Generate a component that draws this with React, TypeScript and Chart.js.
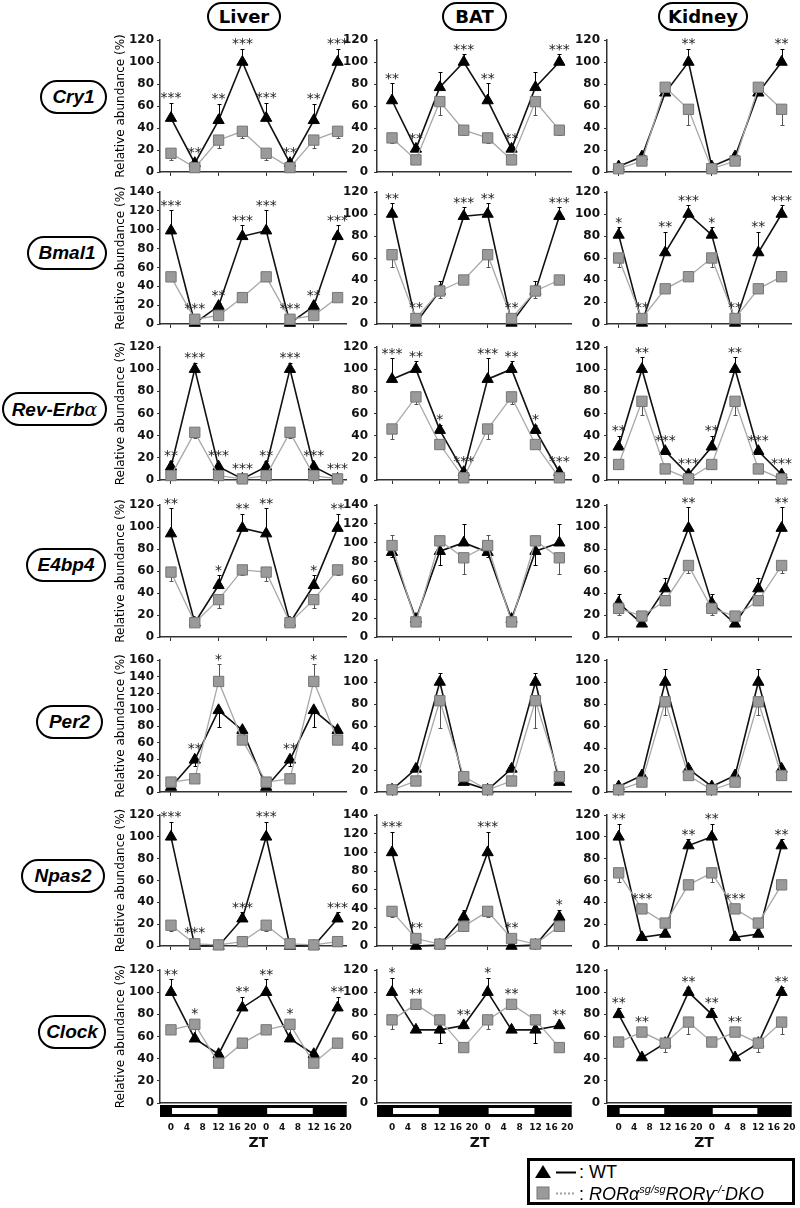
import React, { useEffect, useRef } from "react";
import { Chart, registerables } from "chart.js";

Chart.register(...registerables);

/* ------------------------------------------------------------------ */
/*  DATA                                                              */
/* ------------------------------------------------------------------ */

// sampling times (ZT, hours) of the double-plotted series
const ZT_POINTS = [0, 6, 12, 18, 24, 30, 36, 42];
// bottom axis tick labels
const ZT_TICK_POS = [0, 4, 8, 12, 16, 20, 24, 28, 32, 36, 40, 44];
const ZT_TICK_LABELS = ["0", "4", "8", "12", "16", "20", "0", "4", "8", "12", "16", "20"];
const ZT_AXIS_MARKS = [0, 12, 24, 36];
const LIGHT_PHASES = [
  [0, 12],
  [24, 36],
];

const TISSUES = ["Liver", "BAT", "Kidney"];
const GENES = ["Cry1", "Bmal1", "Rev-Erbα", "E4bp4", "Per2", "Npas2", "Clock"];

// y-axis maximum per panel [Liver, BAT, Kidney]
const Y_MAX = [
  [120, 120, 120],
  [140, 120, 120],
  [120, 120, 120],
  [120, 140, 120],
  [160, 120, 120],
  [120, 140, 120],
  [120, 120, 120],
];

// Relative abundance (%) at ZT 0, 6, 12, 18 for [Liver, BAT, Kidney].
// Errors: signed (+ drawn upward, - drawn downward). Stars: one per plotted point.
const CRY1_WT = [[49, 8, 47, 100], [65, 21, 77, 100], [5, 14, 72, 100]];
const CRY1_WT_ERR = [[14, 0, 15, 12], [16, 3, 14, 7], [2, 2, 3, 12]];
const CRY1_DKO = [[17, 4, 29, 37], [31, 11, 64, 38], [3, 10, 77, 57]];
const CRY1_DKO_ERR = [[-6, -2, -7, -6], [-5, -1, -12, -4], [-1, -2, -2, -14]];
const CRY1_STARS = [
  ["***", "**", "**", "***", "***", "**", "**", "***"],
  ["**", "**", "", "***", "**", "**", "", "***"],
  ["", "", "", "**", "", "", "", "**"],
];

const BMAL1_WT = [[99, 1, 19, 93], [100, 1, 30, 98], [81, 1, 65, 100]];
const BMAL1_WT_ERR = [[22, 0, 3, 12], [10, 0, 9, 8], [7, 0, 19, 8]];
const BMAL1_DKO = [[50, 5, 9, 28], [63, 5, 30, 40], [60, 5, 32, 43]];
const BMAL1_DKO_ERR = [[-2, -1, -3, -2], [-11, -1, -6, -4], [-8, -1, -2, -3]];
const BMAL1_STARS = [
  ["***", "***", "**", "***", "***", "***", "**", "***"],
  ["**", "**", "", "***", "**", "**", "", "***"],
  ["*", "**", "**", "***", "*", "**", "**", "***"],
];

const REVERBA_WT = [[12, 100, 12, 1], [91, 100, 45, 7], [30, 100, 26, 5]];
const REVERBA_WT_ERR = [[5, 6, 0, 0], [19, 7, 5, 0], [10, 11, 0, 0]];
const REVERBA_DKO = [[4, 43, 4, 1], [46, 75, 32, 2], [14, 71, 10, 1]];
const REVERBA_DKO_ERR = [[-1, -5, -1, 0], [-9, -6, -3, 0], [-4, -12, -2, 0]];
const REVERBA_STARS = [
  ["**", "***", "***", "***", "**", "***", "***", "***"],
  ["***", "**", "*", "***", "***", "**", "*", "***"],
  ["**", "**", "***", "***", "**", "**", "***", "***"],
];

const E4BP4_WT = [[94, 13, 47, 99], [90, 19, 91, 100], [31, 12, 44, 99]];
const E4BP4_WT_ERR = [[23, 0, 9, 13], [-5, 0, -15, 20], [8, 0, 10, 19]];
const E4BP4_DKO = [[59, 13, 34, 61], [97, 16, 102, 84], [26, 19, 33, 65]];
const E4BP4_DKO_ERR = [[-8, 0, -8, -5], [11, 0, 3, -17], [-6, 0, -4, -7]];
const E4BP4_STARS = [
  ["**", "", "*", "**", "**", "", "*", "**"],
  ["", "", "", "", "", "", "", ""],
  ["", "", "", "**", "", "", "", "**"],
];

const PER2_WT = [[6, 39, 99, 75], [2, 21, 100, 9], [5, 15, 100, 21]];
const PER2_WT_ERR = [[0, -8, -20, 0], [0, 0, 8, 0], [0, 0, 12, 0]];
const PER2_DKO = [[12, 16, 134, 63], [2, 10, 83, 14], [2, 9, 82, 15]];
const PER2_DKO_ERR = [[0, 0, 21, -3], [0, -2, -25, 0], [0, -2, -12, -2]];
const PER2_STARS = [
  ["", "**", "*", "", "", "**", "*", ""],
  ["", "", "", "", "", "", "", ""],
  ["", "", "", "", "", "", "", ""],
];

const NPAS2_WT = [[100, 0, 0, 25], [100, 0, 1, 31], [100, 8, 11, 92]];
const NPAS2_WT_ERR = [[14, 0, 0, 6], [22, 0, 0, 8], [12, 0, 0, 6]];
const NPAS2_DKO = [[19, 2, 1, 4], [37, 8, 2, 21], [67, 34, 21, 56]];
const NPAS2_DKO_ERR = [[-5, 0, 0, -1], [-6, -1, 0, -2], [-8, -2, -3, -2]];
const NPAS2_STARS = [
  ["***", "***", "", "***", "***", "", "", "***"],
  ["***", "**", "", "", "***", "**", "", "*"],
  ["**", "***", "", "**", "**", "***", "", "**"],
];

const CLOCK_WT = [[100, 58, 44, 86], [100, 66, 66, 70], [80, 41, 54, 100]];
const CLOCK_WT_ERR = [[12, 0, 0, 10], [13, 0, -12, 0], [6, 0, 0, 5]];
const CLOCK_DKO = [[66, 71, 36, 54], [75, 89, 75, 50], [55, 64, 54, 73]];
const CLOCK_DKO_ERR = [[-3, -12, -3, -2], [-8, -3, -8, -2], [-3, -2, -8, -11]];
const CLOCK_STARS = [
  ["**", "*", "", "**", "**", "*", "", "**"],
  ["*", "**", "", "**", "*", "**", "", "**"],
  ["**", "**", "", "**", "**", "**", "", "**"],
];

const WT = [CRY1_WT, BMAL1_WT, REVERBA_WT, E4BP4_WT, PER2_WT, NPAS2_WT, CLOCK_WT];
const WT_ERR = [CRY1_WT_ERR, BMAL1_WT_ERR, REVERBA_WT_ERR, E4BP4_WT_ERR, PER2_WT_ERR, NPAS2_WT_ERR, CLOCK_WT_ERR];
const DKO = [CRY1_DKO, BMAL1_DKO, REVERBA_DKO, E4BP4_DKO, PER2_DKO, NPAS2_DKO, CLOCK_DKO];
const DKO_ERR = [CRY1_DKO_ERR, BMAL1_DKO_ERR, REVERBA_DKO_ERR, E4BP4_DKO_ERR, PER2_DKO_ERR, NPAS2_DKO_ERR, CLOCK_DKO_ERR];
const STARS = [CRY1_STARS, BMAL1_STARS, REVERBA_STARS, E4BP4_STARS, PER2_STARS, NPAS2_STARS, CLOCK_STARS];

// the figure plots the same ZT0-18 measurements twice (double plot)
const doublePlot = (v: number[]) => [...v, ...v];

/* ------------------------------------------------------------------ */
/*  LAYOUT                                                            */
/* ------------------------------------------------------------------ */

const AXIS = "#333";
const TOP_PAD = 16;
const COLS = [
  { left: 114, axisW: 46, width: 241, padR: 8, xMin: -2.77, xMax: 44.3, tickPad: 3 },
  { left: 340, axisW: 37, width: 240, padR: 8, xMin: -3.77, xMax: 45.1, tickPad: 6 },
  { left: 570, axisW: 37, width: 230, padR: 3, xMin: -3.0, xMax: 44.6, tickPad: 4 },
];
const ROW_TOP = [40, 192, 347, 505, 660, 815, 970];
const ROW_BOTTOM = [172, 324, 480, 637, 792, 946, 1103];
const HEADER_BOX = [
  { left: 207, width: 74 },
  { left: 442, width: 65 },
  { left: 658, width: 90 },
];
const GENE_BOX = [
  { left: 40, width: 67, cy: 97 },
  { left: 27, width: 80, cy: 253 },
  { left: 2, width: 105, cy: 409 },
  { left: 26, width: 80, cy: 565 },
  { left: 36, width: 67, cy: 722 },
  { left: 21, width: 84, cy: 876 },
  { left: 38, width: 68, cy: 1032 },
];

function Panel({ g, t }: { g: number; t: number }) {
  const ref = useRef<HTMLCanvasElement>(null);
  const col = COLS[t];
  const isBottom = g === GENES.length - 1;
  const xAxisH = isBottom ? 52 : 10;
  const top = ROW_TOP[g] - TOP_PAD;
  const height = TOP_PAD + (ROW_BOTTOM[g] - ROW_TOP[g]) + xAxisH;

  useEffect(() => {
    const canvas = ref.current;
    if (!canvas) return;
    const wt = doublePlot(WT[g][t]);
    const wtErr = doublePlot(WT_ERR[g][t]);
    const dko = doublePlot(DKO[g][t]);
    const dkoErr = doublePlot(DKO_ERR[g][t]);
    const stars = STARS[g][t];

    const overlay: any = {
      id: "errStars",
      beforeDatasetsDraw(chart: any) {
        const { ctx } = chart;
        const x = chart.scales.x;
        const y = chart.scales.y;
        ctx.save();
        const groups: [number[], number[], string][] = [
          [dko, dkoErr, "#555"],
          [wt, wtErr, "#000"],
        ];
        groups.forEach(([vals, errs, color]) => {
          ctx.strokeStyle = color;
          ctx.lineWidth = 1;
          ZT_POINTS.forEach((zt, i) => {
            const e = errs[i];
            if (!e) return;
            const px = Math.round(x.getPixelForValue(zt)) + 0.5;
            const y0 = y.getPixelForValue(vals[i]);
            const y1 = Math.round(y.getPixelForValue(vals[i] + e)) + 0.5;
            ctx.beginPath();
            ctx.moveTo(px, y0);
            ctx.lineTo(px, y1);
            ctx.moveTo(px - 2, y1);
            ctx.lineTo(px + 2, y1);
            ctx.stroke();
          });
        });
        ctx.restore();
      },
      afterDatasetsDraw(chart: any) {
        const { ctx } = chart;
        const x = chart.scales.x;
        const y = chart.scales.y;
        ctx.save();
        ctx.fillStyle = "#222";
        ctx.font = '14px "DejaVu Sans"';
        ctx.textAlign = "center";
        ctx.textBaseline = "middle";
        ZT_POINTS.forEach((zt, i) => {
          const s = stars[i];
          if (!s) return;
          const c = [y.getPixelForValue(wt[i]) - 6, y.getPixelForValue(dko[i]) - 6];
          if (wtErr[i] > 0) c.push(y.getPixelForValue(wt[i] + wtErr[i]));
          if (dkoErr[i] > 0) c.push(y.getPixelForValue(dko[i] + dkoErr[i]));
          const anchor = Math.min(...c);
          ctx.fillText(s, x.getPixelForValue(zt), anchor - 8 + 4);
        });
        ctx.restore();
      },
      afterDraw(chart: any) {
        if (!isBottom) return;
        const { ctx, chartArea } = chart;
        const x = chart.scales.x;
        ctx.save();
        const barTop = chartArea.bottom + 2;
        const barH = 12;
        ctx.fillStyle = "#000";
        ctx.fillRect(chartArea.left, barTop, chartArea.right - chartArea.left, barH);
        ctx.fillStyle = "#fff";
        LIGHT_PHASES.forEach(([a, b]) => {
          const x1 = x.getPixelForValue(a) + 1;
          const x2 = x.getPixelForValue(b) - 1;
          ctx.fillRect(x1, barTop + 3, x2 - x1, barH - 6);
        });
        ctx.fillStyle = "#111";
        ctx.font = 'bold 14px "DejaVu Sans"';
        ctx.textAlign = "center";
        ctx.textBaseline = "middle";
        ctx.fillText("ZT", x.getPixelForValue(22), chartArea.bottom + 40);
        ctx.restore();
      },
    };

    const chart = new Chart(canvas, {
      type: "line",
      data: {
        datasets: [
          {
            label: "RORα sg/sg RORγ -/- DKO",
            data: ZT_POINTS.map((zt, i) => ({ x: zt, y: dko[i] })),
            borderColor: "#a8a8a8",
            borderWidth: 1.3,
            pointStyle: "rect",
            pointRadius: 7.3,
            pointBackgroundColor: "#9a9a9a",
            pointBorderColor: "#767676",
            pointBorderWidth: 1,
            clip: false,
            tension: 0,
          } as any,
          {
            label: "WT",
            data: ZT_POINTS.map((zt, i) => ({ x: zt, y: wt[i] })),
            borderColor: "#111",
            borderWidth: 1.6,
            pointStyle: "triangle",
            pointRadius: 6.5,
            pointBackgroundColor: "#000",
            pointBorderColor: "#000",
            pointBorderWidth: 1,
            clip: false,
            tension: 0,
          } as any,
        ],
      },
      options: {
        responsive: false,
        animation: false,
        events: [],
        layout: { padding: { top: TOP_PAD, right: col.padR, bottom: 0, left: 0 } },
        plugins: { legend: { display: false }, tooltip: { enabled: false } },
        scales: {
          x: {
            type: "linear",
            min: col.xMin,
            max: col.xMax,
            afterBuildTicks: (s: any) => {
              s.ticks = (isBottom ? ZT_TICK_POS : ZT_AXIS_MARKS).map((v) => ({ value: v }));
            },
            afterFit: (s: any) => {
              s.height = xAxisH;
              s.paddingLeft = 0;
              s.paddingRight = 0;
            },
            ticks: {
              display: isBottom,
              autoSkip: false,
              maxRotation: 0,
              minRotation: 0,
              padding: 19,
              color: "#111",
              font: { family: "DejaVu Sans", size: 9, weight: "bold" },
              callback: (_v: any, i: number) => ZT_TICK_LABELS[i],
            },
            grid: { drawOnChartArea: false, drawTicks: !isBottom, tickLength: 4, color: AXIS },
            border: { color: AXIS, width: 1.5 },
          } as any,
          y: {
            min: 0,
            max: Y_MAX[g][t],
            afterFit: (s: any) => {
              s.width = col.axisW;
              s.paddingTop = 0;
              s.paddingBottom = 0;
            },
            ticks: {
              stepSize: 20,
              autoSkip: false,
              padding: col.tickPad,
              color: "#111",
              font: { family: "DejaVu Sans", size: 12, weight: "bold" },
            },
            grid: { drawOnChartArea: false, drawTicks: true, tickLength: 3, color: AXIS },
            border: { color: AXIS, width: 1.5 },
            title: {
              display: t === 0,
              text: "Relative abundance (%)",
              color: "#000",
              padding: 0,
              font: { family: "DejaVu Sans", size: 12 },
            },
          } as any,
        },
      },
      plugins: [overlay],
    });
    return () => chart.destroy();
  }, [g, t]);

  return (
    <canvas
      ref={ref}
      width={col.width}
      height={height}
      style={{ position: "absolute", left: col.left, top, width: col.width, height }}
    />
  );
}

function GeneLabel({ name }: { name: string }) {
  if (name.endsWith("α")) {
    return (
      <span>
        {name.slice(0, -1)}
        <span style={{ fontFamily: '"DejaVu Serif"', fontStyle: "italic", fontWeight: "normal" }}>α</span>
      </span>
    );
  }
  return <span>{name}</span>;
}

export default function App() {
  const panels: React.ReactNode[] = [];
  GENES.forEach((_, g) => TISSUES.forEach((__, t) => panels.push(<Panel key={`${g}-${t}`} g={g} t={t} />)));

  return (
    <div
      style={{
        position: "absolute",
        left: 0,
        top: 0,
        width: 800,
        height: 1208,
        background: "#fff",
        overflow: "hidden",
      }}
    >
      {TISSUES.map((name, t) => (
        <div
          key={name}
          style={{
            position: "absolute",
            left: HEADER_BOX[t].left,
            top: 2,
            width: HEADER_BOX[t].width,
            height: 29,
            boxSizing: "border-box",
            border: "2.5px solid #000",
            borderRadius: 15,
            display: "flex",
            alignItems: "center",
            justifyContent: "center",
            fontFamily: '"DejaVu Sans"',
            fontWeight: "bold",
            fontSize: 18,
            color: "#000",
          }}
        >
          {name}
        </div>
      ))}

      {GENES.map((name, g) => (
        <div
          key={name}
          style={{
            position: "absolute",
            left: GENE_BOX[g].left,
            top: GENE_BOX[g].cy - 17,
            width: GENE_BOX[g].width,
            height: 34,
            boxSizing: "border-box",
            border: "2.5px solid #000",
            borderRadius: 17,
            display: "flex",
            alignItems: "center",
            justifyContent: "center",
            fontFamily: '"Liberation Sans"',
            fontWeight: "bold",
            fontStyle: "italic",
            fontSize: 19,
            color: "#000",
          }}
        >
          <GeneLabel name={name} />
        </div>
      ))}

      {panels}

      <svg style={{ position: "absolute", left: 527, top: 1158 }} width={268} height={47}>
        <rect x={1.5} y={1.5} width={265} height={44} fill="#fff" stroke="#000" strokeWidth={3} />
        <polygon points="16,7 24,20 8,20" fill="#000" />
        <line x1={29} y1={14.5} x2={49} y2={14.5} stroke="#000" strokeWidth={2} />
        <rect x={10} y={29} width={12} height={12} fill="#9a9a9a" stroke="#767676" strokeWidth={1} />
        <line x1={29} y1={35.5} x2={49} y2={35.5} stroke="#a0a0a0" strokeWidth={2} strokeDasharray="2 2" />
      </svg>
      <div
        style={{
          position: "absolute",
          left: 579,
          top: 1161,
          fontFamily: '"Liberation Sans"',
          fontSize: 18,
          lineHeight: "22px",
          color: "#000",
          whiteSpace: "nowrap",
        }}
      >
        : WT
      </div>
      <div
        style={{
          position: "absolute",
          left: 579,
          top: 1183,
          fontFamily: '"Liberation Sans"',
          fontSize: 18,
          lineHeight: "22px",
          color: "#000",
          whiteSpace: "nowrap",
        }}
      >
        :{" "}
        <i>
          RORα<span style={{ fontSize: 11, position: "relative", top: -7 }}>sg/sg</span>RORγ
          <span style={{ fontSize: 11, position: "relative", top: -7 }}>-/-</span>DKO
        </i>
      </div>
    </div>
  );
}
